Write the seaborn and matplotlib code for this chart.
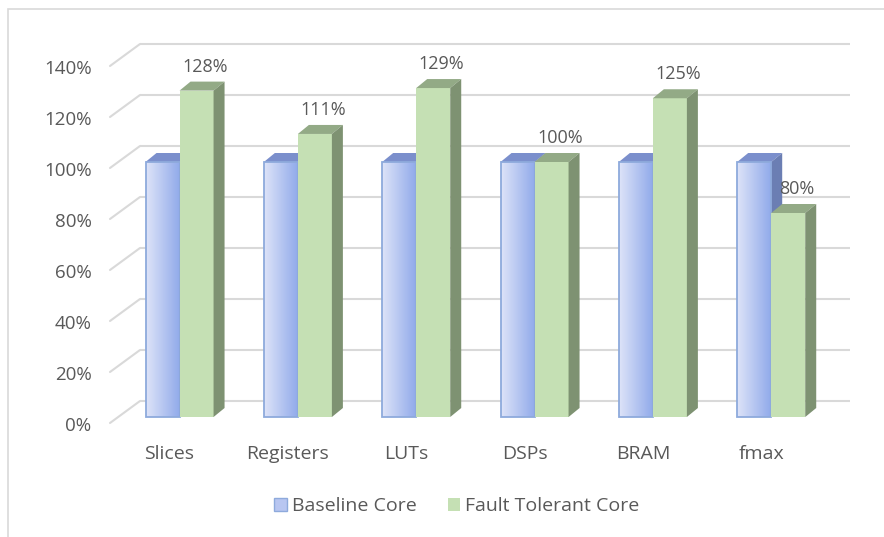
import numpy as np
import pandas as pd
import matplotlib
matplotlib.use("Agg")
import matplotlib.pyplot as plt
import matplotlib.transforms as mtrans
from matplotlib.patches import Polygon, Rectangle, Patch
from matplotlib.colors import LinearSegmentedColormap
import seaborn as sns

# ---- data ----
categories = ["Slices", "Registers", "LUTs", "DSPs", "BRAM", "fmax"]
baseline = [100, 100, 100, 100, 100, 100]
fault_tolerant = [128, 111, 129, 100, 125, 80]
series_names = ["Baseline Core", "Fault Tolerant Core"]
y_ticks = [0, 20, 40, 60, 80, 100, 120, 140]

df = pd.DataFrame({
    "metric": categories * 2,
    "value": baseline + fault_tolerant,
    "core": [series_names[0]] * len(categories) + [series_names[1]] * len(categories),
})

# ---- styling ----
TEXT = "#595959"
GRID = "#d9d9d9"
BLUE_LIGHT, BLUE_DARK = "#dde3f8", "#8fa9ea"
BLUE_EDGE, BLUE_TOP, BLUE_SIDE = "#8eaadc", "#7b8fcc", "#6b7eb3"
GREEN, GREEN_TOP, GREEN_SIDE = "#c5e0b4", "#93aa86", "#7e9272"

sns.set_theme(style="white")
plt.rcParams["font.family"] = ["Open Sans", "DejaVu Sans"]

W, H = 884, 537
fig = plt.figure(figsize=(W / 100, H / 100), dpi=100)
ax_l, ax_b, ax_w, ax_h = 118, 417, 710, 357  # pixel geometry of the bar front plane
ax = fig.add_axes([ax_l / W, (H - ax_b) / H, ax_w / W, ax_h / H])

sns.barplot(data=df, x="metric", y="value", hue="core", order=categories,
            hue_order=series_names, palette=[BLUE_DARK, GREEN], saturation=1,
            width=0.575, gap=0, legend=False, ax=ax, zorder=3)

XMIN, XMAX, YMAX = -0.52, 5.48, 140
ax.set_xlim(XMIN, XMAX)
ax.set_ylim(0, YMAX)
px_x = ax_w / (XMAX - XMIN)
px_y = ax_h / YMAX


def ux(p):
    return p / px_x


def uy(p):
    return p / px_y


# pseudo-3D offsets (pixels): back wall, front floor edge, bar depth
BACK = (22, 16)
FRONT = (-8, -6)
DEPTH = (11, 9)

# back-wall gridlines and left-wall diagonals
for v in y_ticks:
    ax.plot([XMIN + ux(BACK[0]), XMAX + ux(BACK[0])], [v + uy(BACK[1])] * 2,
            color=GRID, lw=1.5, zorder=0, clip_on=False, solid_capstyle="butt")
    ax.plot([XMIN + ux(FRONT[0]), XMIN + ux(BACK[0])],
            [v + uy(FRONT[1]), v + uy(BACK[1])],
            color=GRID, lw=1.5, zorder=0, clip_on=False)

cmap = LinearSegmentedColormap.from_list("bluegrad", [BLUE_LIGHT, BLUE_DARK])
grad = np.linspace(0, 1, 64).reshape(1, -1)
ddx, ddy = ux(DEPTH[0]), uy(DEPTH[1])

for si, cont in enumerate(ax.containers):
    for rect in cont:
        x, w, h = rect.get_x(), rect.get_width(), rect.get_height()
        base_z = 3 + si
        rect.set_zorder(base_z)
        rect.set_clip_on(False)
        rect.set_edgecolor("none")
        if si == 0:
            im = ax.imshow(grad, extent=[x, x + w, 0, h], cmap=cmap, aspect="auto",
                           zorder=base_z + 0.01, interpolation="bilinear")
            im.set_clip_path(rect)
            ax.add_patch(Rectangle((x, 0), w, h, fill=False, edgecolor=BLUE_EDGE,
                                   lw=1.3, zorder=base_z + 0.05, clip_on=False))
            top_c, side_c = BLUE_TOP, BLUE_SIDE
        else:
            top_c, side_c = GREEN_TOP, GREEN_SIDE
        ax.add_patch(Polygon([(x, h), (x + w, h), (x + w + ddx, h + ddy), (x + ddx, h + ddy)],
                             closed=True, facecolor=top_c, edgecolor="none",
                             zorder=base_z + 0.02, clip_on=False))
        ax.add_patch(Polygon([(x + w, 0), (x + w, h), (x + w + ddx, h + ddy), (x + w + ddx, ddy)],
                             closed=True, facecolor=side_c, edgecolor="none",
                             zorder=base_z + 0.02, clip_on=False))
        if si == 1:
            ax.text(x + w / 2 + ddx / 2 + ux(3), h + ddy + uy(15), f"{h:.0f}%",
                    ha="center", va="center", fontsize=13, color=TEXT, zorder=10)

ax.set_xlim(XMIN, XMAX)
ax.set_ylim(0, YMAX)

# axes text
ax.set_yticks(y_ticks)
ax.set_yticklabels([f"{v}%" for v in y_ticks])
ax.tick_params(axis="y", length=0, pad=19, labelsize=13.5, labelcolor=TEXT)
ax.tick_params(axis="x", length=0, pad=20, labelsize=14, labelcolor=TEXT)
for lab in ax.get_yticklabels():
    lab.set_transform(lab.get_transform() + mtrans.ScaledTranslation(0, -0.07, fig.dpi_scale_trans))
for lab in ax.get_xticklabels():
    lab.set_transform(lab.get_transform() + mtrans.ScaledTranslation(-0.10, 0, fig.dpi_scale_trans))
ax.set_xlabel("")
ax.set_ylabel("")
for s in ax.spines.values():
    s.set_visible(False)
ax.patch.set_alpha(0)

# legend
handles = [Patch(facecolor="#b8c6f1", edgecolor=BLUE_EDGE, lw=1.0, label=series_names[0]),
           Patch(facecolor=GREEN, edgecolor="none", label=series_names[1])]
fig.legend(handles=handles, loc="center", bbox_to_anchor=(457 / W, 1 - 506 / H), ncol=2,
           frameon=False, fontsize=14, labelcolor=TEXT, handlelength=0.65, handleheight=0.65,
           handletextpad=0.25, columnspacing=1.6)

# chart frame
fig.patches.append(Rectangle((8 / W, -0.05), 1.0, 1.05 - 9 / H, transform=fig.transFigure,
                             fill=False, edgecolor=GRID, lw=1.2))

fig.savefig("out.png", dpi=100)
